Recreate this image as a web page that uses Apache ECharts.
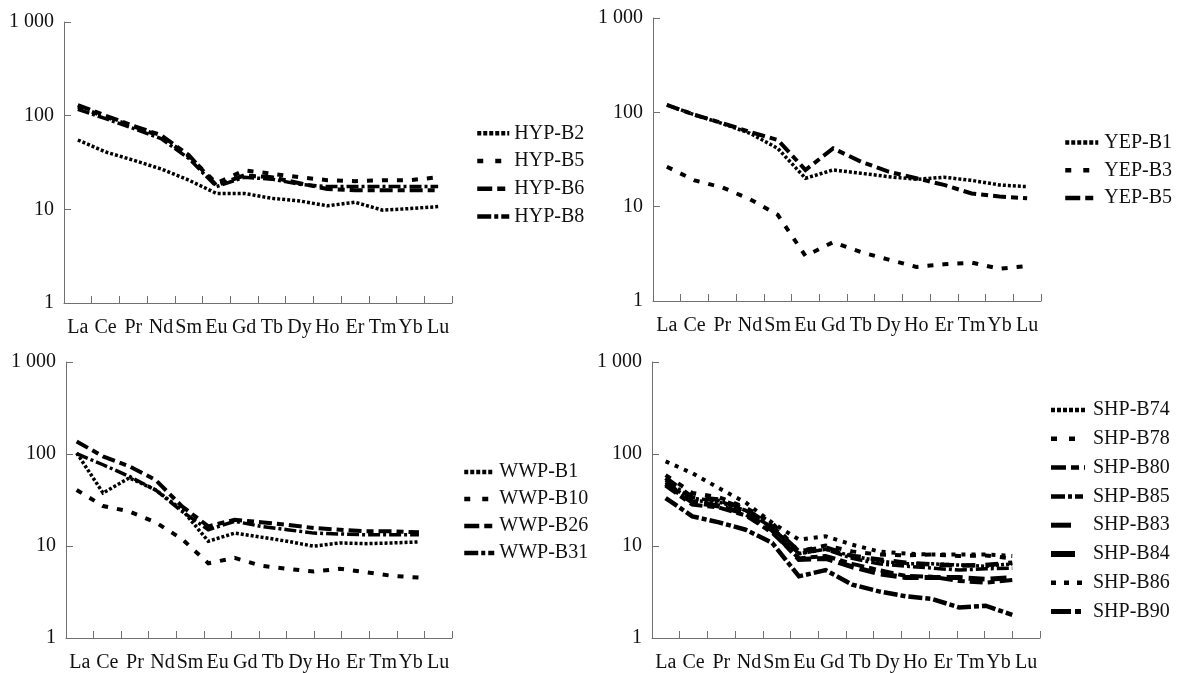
<!DOCTYPE html>
<html>
<head>
<meta charset="utf-8">
<script src="https://cdn.jsdelivr.net/npm/echarts@6/dist/echarts.min.js"></script>
<style>
html,body{margin:0;padding:0;background:#fff;}
#chart{width:1177px;height:673px;}
</style>
</head>
<body>
<div id="chart"></div>
<script>
// ---- data ----
const categories = ['La','Ce','Pr','Nd','Sm','Eu','Gd','Tb','Dy','Ho','Er','Tm','Yb','Lu'];
const yTicks = [1, 10, 100, 1000];

const HYP_B2 = [55, 41, 33.5, 27, 20.5, 14.8, 14.8, 13.1, 12.3, 10.9, 11.9, 9.8, 10.2, 10.7];
const HYP_B5 = [125, 97, 77, 60, 37, 19, 26, 24, 22, 20.5, 20, 20.5, 20.5, 22];
const HYP_B6 = [130, 100, 78, 62, 38, 18, 23, 22, 19, 16.5, 16, 16, 16, 16];
const HYP_B8 = [117, 93, 73, 57, 35, 17.5, 22, 21, 18.5, 17.5, 17.5, 17.5, 17.5, 17.5];

const YEP_B1 = [120, 94, 76, 60, 41.5, 20, 24.5, 22.6, 20.8, 19.5, 20.5, 19, 17, 16.3];
const YEP_B3 = [26.5, 19, 16, 12, 8.2, 3.0, 4.2, 3.3, 2.75, 2.3, 2.45, 2.55, 2.2, 2.35];
const YEP_B5 = [120, 94, 77, 62, 51, 24.5, 41.5, 30, 23.5, 20, 17, 13.8, 12.8, 12.3];

const WWP_B1  = [107, 40, 58, 43, 26.5, 12.2, 14.9, 13.5, 12.2, 10.8, 11.7, 11.5, 11.7, 12];
const WWP_B10 = [43, 29, 25.4, 19.4, 12.9, 7.1, 8.1, 6.7, 6.2, 5.8, 6.2, 5.7, 5.2, 5.0];
const WWP_B26 = [142, 98, 77, 55, 28.8, 17.6, 20.7, 19.5, 18.3, 16.9, 16.2, 15.6, 15.6, 15.2];
const WWP_B31 = [105, 80, 60, 43, 25.4, 16.2, 19.9, 17.6, 16.2, 14.9, 14.6, 14.3, 14.3, 14.3];

const SHP_B74 = [52, 33, 32, 26, 17, 9, 10, 8.5, 7.5, 7, 7, 6.8, 6.6, 7];
const SHP_B78 = [62, 40, 36, 28, 19, 9.5, 11, 9.5, 8.8, 8.6, 8.8, 8.5, 8.6, 8.0];
const SHP_B80 = [48, 30, 28, 23, 15, 8, 8.5, 7, 6, 5.2, 5.1, 4.6, 4.4, 4.7];
const SHP_B85 = [55, 35, 33, 26, 17, 9, 10, 8, 7, 6.6, 6.3, 6, 6.2, 6.3];
const SHP_B83 = [58, 36, 34, 27, 17.5, 9.5, 10.5, 8.5, 7.8, 7.2, 6.9, 6.7, 6.8, 7.2];
const SHP_B84 = [50, 32, 29, 24, 16, 7.8, 8, 6.5, 5.5, 5, 5, 5, 4.8, 5];
const SHP_B86 = [87, 65, 45, 31.6, 19.2, 12.7, 13.8, 11.2, 9.5, 9.0, 8.8, 8.8, 8.8, 8.5];
const SHP_B90 = [35.3, 22.5, 19.4, 16.2, 11.7, 5.15, 6.0, 4.2, 3.56, 3.15, 2.95, 2.4, 2.5, 2.0];

// ---- styles ----
const ST = {
  dotted:     { type: [3, 2], width: 3.5, legend: [4, 2], lw: 4.5 },
  sparseDash: { type: [6, 9], width: 4, legend: [6, 12], lw: 4.5 },
  longShort:  { type: [13, 5, 7, 5], width: 4, legend: [15, 5, 8, 5], lw: 4.5 },
  dashDot:    { type: [12, 3, 3, 3], width: 3.5, legend: [14, 3, 4, 3, 8, 3], lw: 4.5 },
  longDash:   { type: [13, 10], width: 4.5, legend: [20, 20], lw: 5 },
  heavyDash:  { type: [16, 6], width: 5, legend: [24, 20], lw: 6 },
  sparseDot:  { type: [4, 6], width: 4, legend: [5, 8], lw: 4.5 },
  heavyDashDot: { type: [14, 3, 5, 3], width: 4.5, legend: [20, 4, 6, 4], lw: 5 }
};

const panels = [
  { grid: { left: 64, top: 22, width: 388, height: 281 }, dataGrid: null,
    legend: { left: 475, top: 119.5, row: 27.7, iw: 32, gap: 5 },
    series: [['HYP-B2', HYP_B2, ST.dotted], ['HYP-B5', HYP_B5, ST.sparseDash], ['HYP-B6', HYP_B6, ST.longShort], ['HYP-B8', HYP_B8, ST.dashDot]] },
  { grid: { left: 653, top: 18, width: 388, height: 283 }, dataGrid: null,
    legend: { left: 1063, top: 128.7, row: 27.7, iw: 33, gap: 6 },
    series: [['YEP-B1', YEP_B1, ST.dotted], ['YEP-B3', YEP_B3, ST.sparseDash], ['YEP-B5', YEP_B5, ST.longShort]] },
  { grid: { left: 66, top: 362, width: 386, height: 281 }, dataGrid: { left: 63.5, top: 362, width: 368.6, height: 281 },
    legend: { left: 462, top: 458.5, row: 27, iw: 30, gap: 5 },
    series: [['WWP-B1', WWP_B1, ST.dotted], ['WWP-B10', WWP_B10, ST.sparseDash], ['WWP-B26', WWP_B26, ST.longShort], ['WWP-B31', WWP_B31, ST.dashDot]] },
  { grid: { left: 652, top: 362, width: 388, height: 281 }, dataGrid: { left: 652.3, top: 362, width: 373.3, height: 281 },
    legend: { left: 1048, top: 395.6, row: 28.8, iw: 34, gap: 8 },
    series: [['SHP-B74', SHP_B74, ST.dotted], ['SHP-B78', SHP_B78, ST.sparseDash], ['SHP-B80', SHP_B80, ST.longShort], ['SHP-B85', SHP_B85, ST.dashDot],
             ['SHP-B83', SHP_B83, ST.longDash], ['SHP-B84', SHP_B84, ST.heavyDash], ['SHP-B86', SHP_B86, ST.sparseDot], ['SHP-B90', SHP_B90, ST.heavyDashDot]] }
];

const FONT = 'Liberation Serif';
const AXIS_COLOR = '#707070';
const TEXT_COLOR = '#111';

const option = { animation: false, backgroundColor: '#fff', grid: [], xAxis: [], yAxis: [], series: [], legend: [] };

function fmtY(v) { return v === 1000 ? '1 000' : String(v); }

panels.forEach((p) => {
  const gi = option.grid.length;
  option.grid.push(Object.assign({ containLabel: false }, p.grid));
  option.xAxis.push({
    type: 'category', gridIndex: gi, data: categories, boundaryGap: true,
    axisLine: { show: true, lineStyle: { color: AXIS_COLOR, width: 1 } },
    axisTick: { show: true, inside: true, length: 7, lineStyle: { color: AXIS_COLOR } },
    axisLabel: { interval: 0, margin: 15, fontFamily: FONT, fontSize: 20, color: TEXT_COLOR },
    splitLine: { show: false }
  });
  option.yAxis.push({
    type: 'log', logBase: 10, gridIndex: gi, min: yTicks[0], max: yTicks[yTicks.length - 1],
    axisLine: { show: true, lineStyle: { color: AXIS_COLOR, width: 1 } },
    axisTick: { show: true, inside: true, length: 7, lineStyle: { color: AXIS_COLOR } },
    axisLabel: { margin: 10, fontFamily: FONT, fontSize: 20, color: TEXT_COLOR, formatter: fmtY },
    splitLine: { show: false }, minorTick: { show: false }
  });
  let dx = gi, dy = gi;
  if (p.dataGrid) {
    const dgi = option.grid.length;
    option.grid.push(Object.assign({ containLabel: false }, p.dataGrid));
    dx = option.xAxis.length; dy = option.yAxis.length;
    option.xAxis.push({ type: 'category', gridIndex: dgi, data: categories, boundaryGap: true, show: false });
    option.yAxis.push({ type: 'log', logBase: 10, gridIndex: dgi, min: yTicks[0], max: yTicks[yTicks.length - 1], show: false });
  }
  const names = [];
  p.series.forEach(([name, data, st]) => {
    names.push({ name, lineStyle: { color: '#000', width: st.lw, type: st.legend, cap: 'butt' } });
    option.series.push({
      name, type: 'line', xAxisIndex: dx, yAxisIndex: dy, data,
      symbol: 'none', silent: true, smooth: false,
      lineStyle: { color: '#000', width: st.width, type: st.type, cap: 'butt', join: 'miter' },
      itemStyle: { color: '#000' }
    });
  });
  option.legend.push({
    data: names, orient: 'vertical', left: p.legend.left, top: p.legend.top,
    itemGap: 0, itemWidth: p.legend.iw, itemHeight: 2, selectedMode: false,
    padding: 0,
    itemStyle: { opacity: 0 },
    textStyle: { fontFamily: FONT, fontSize: 20, color: TEXT_COLOR, lineHeight: p.legend.row, padding: [0, 0, 0, p.legend.gap - 5] }
  });
});

const chart = echarts.init(document.getElementById('chart'), null, { renderer: 'canvas' });
chart.setOption(option);
</script>
</body>
</html>
